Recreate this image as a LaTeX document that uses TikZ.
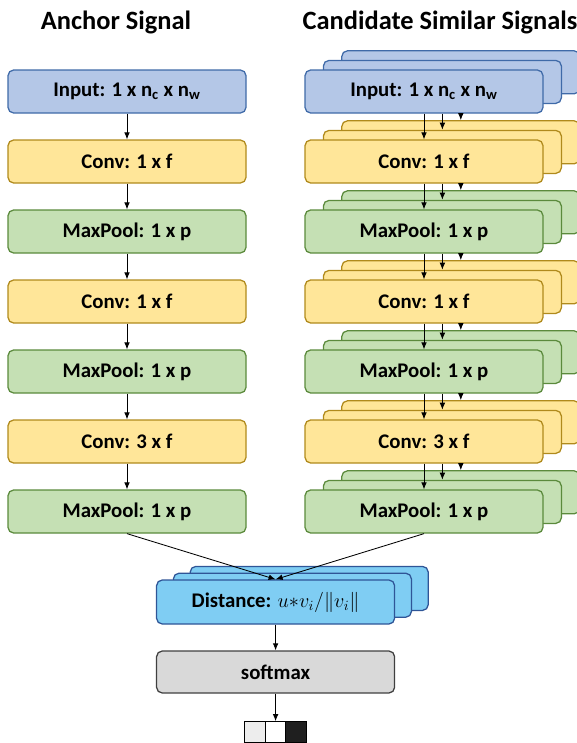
\documentclass[tikz,border=0pt]{standalone}
\usepackage{fontspec}
\setmainfont{Carlito}
\usepackage{xcolor}
\usepackage{tikz}
\usetikzlibrary{positioning, calc, arrows.meta}

\definecolor{infill}{HTML}{B4C7E7}
\definecolor{indraw}{HTML}{3F6AA8}
\definecolor{convfill}{HTML}{FFE699}
\definecolor{convdraw}{HTML}{B08A1C}
\definecolor{poolfill}{HTML}{C5E0B4}
\definecolor{pooldraw}{HTML}{5B8A3C}
\definecolor{distfill}{HTML}{7FCDF3}
\definecolor{distdraw}{HTML}{2F5597}
\definecolor{softfill}{HTML}{D9D9D9}
\definecolor{softdraw}{HTML}{404040}

\begin{document}
\begin{tikzpicture}[node distance=1.75cm, on grid,
    box/.style={draw, rounded corners=4pt, line width=0.9pt, minimum width=5.95cm, minimum height=1.075cm, font=\bfseries\fontsize{14.8}{17}\selectfont},
    inbox/.style={box, fill=infill, draw=indraw},
    convbox/.style={box, fill=convfill, draw=convdraw},
    poolbox/.style={box, fill=poolfill, draw=pooldraw},
    distbox/.style={box, fill=distfill, draw=distdraw, minimum height=1.1cm},
    softbox/.style={box, fill=softfill, draw=softdraw, minimum height=1.05cm},
    cell/.style={draw=black, line width=0.8pt, minimum size=0.5125cm, inner sep=0pt},
    title/.style={font=\bfseries\fontsize{18.8}{22}\selectfont},
    >={Latex[length=5pt,width=4pt]}, arr/.style={->, line width=0.6pt}]
    \useasboundingbox (0,0) rectangle (14.425,-18.575);

    \node[title] (anchor) at (2.9,-0.55) {Anchor Signal};
    \node[title] (cand) at (11.0,-0.55) {Candidate Similar Signals};

    % anchor branch
    \node[inbox] (in) at (3.175,-2.2875) {Input: 1 x n\textsubscript{c} x n\textsubscript{w}};
    \node[convbox, below=of in] (c1) {Conv: 1 x f};
    \node[poolbox, below=of c1] (p1) {MaxPool: 1 x p};
    \node[convbox, below=of p1] (c2) {Conv: 1 x f};
    \node[poolbox, below=of c2] (p2) {MaxPool: 1 x p};
    \node[convbox, below=of p2] (c3) {Conv: 3 x f};
    \node[poolbox, below=of c3] (p3) {MaxPool: 1 x p};

    \foreach \a/\b in {in/c1, c1/p1, p1/c2, c2/p2, p2/c3, c3/p3}
        \draw[arr] (\a) -- (\b);

    % candidate branch, three stacked copies per layer
    \foreach \nm/\st/\txt [count=\i] in {in/inbox/{Input: 1 x n\textsubscript{c} x n\textsubscript{w}},
            c1/convbox/{Conv: 1 x f}, p1/poolbox/{MaxPool: 1 x p},
            c2/convbox/{Conv: 1 x f}, p2/poolbox/{MaxPool: 1 x p},
            c3/convbox/{Conv: 3 x f}, p3/poolbox/{MaxPool: 1 x p}} {
        \pgfmathsetmacro{\yy}{-2.2875-1.75*(\i-1)}
        \node[\st] (r-\nm-c) at (10.6+0.92,\yy+0.48) {};
        \node[\st] (r-\nm-b) at (10.6+0.46,\yy+0.24) {};
        \node[\st] (r-\nm-a) at (10.6,\yy) {\txt};
    }

    \foreach \a/\b in {in/c1, c1/p1, p1/c2, c2/p2, p2/c3, c3/p3} {
        \draw[arr] (r-\a-a) -- (r-\b-a);
        \draw[arr] (r-\a-a.south -| r-\a-b) -- (r-\b-b.north);
        \draw[arr] (r-\a-a.south -| r-\a-c) -- (r-\b-c.north);
    }

    % similarity and output
    \node[distbox] (dist-c) at (6.89+0.84,-15.05+0.34) {};
    \node[distbox] (dist-b) at (6.89+0.42,-15.05+0.17) {};
    \node[distbox] (dist) at (6.89,-15.05) {Distance: $u{*}v_i/\|v_i\|$};
    \node[softbox, below=of dist] (soft) {softmax};

    \node[cell, fill=white, below=1.5cm of soft] (s2) {};
    \node[cell, fill=black!7, left=0.5125cm of s2] (s1) {};
    \node[cell, fill=black!88, right=0.5125cm of s2] (s3) {};

    \draw[arr] (p3.south) -- (dist.north);
    \draw[arr] (r-p3-a.south) -- (dist.north);
    \draw[arr] (dist) -- (soft);
    \draw[arr] (soft) -- (s2);
\end{tikzpicture}
\end{document}
